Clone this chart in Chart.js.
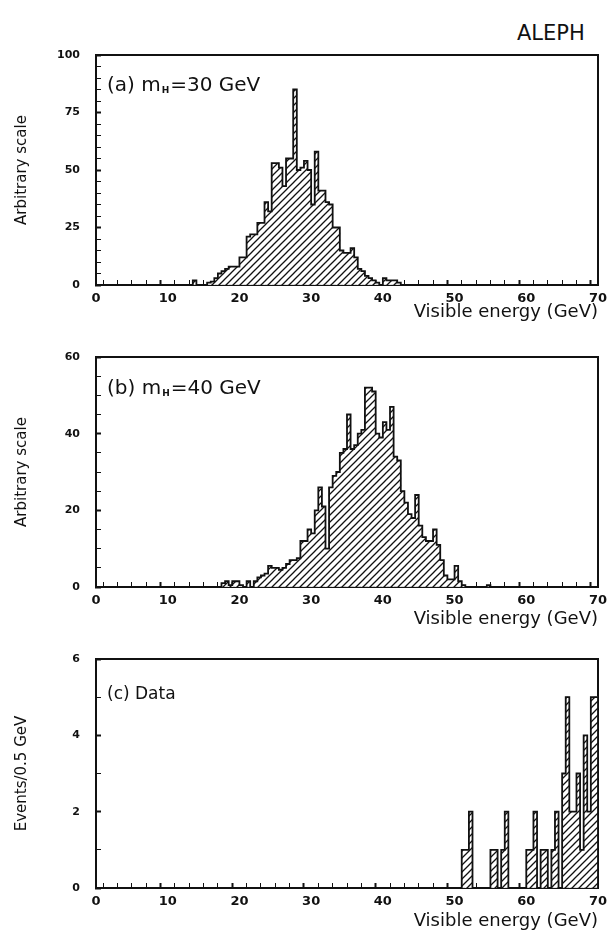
<!DOCTYPE html>
<html><head><meta charset="utf-8">
<script src="https://cdn.jsdelivr.net/npm/chart.js@4/dist/chart.umd.min.js"></script>
<style>
html,body{margin:0;padding:0;background:#fff;}
body{width:609px;height:940px;position:relative;overflow:hidden;}
canvas{position:absolute;left:0;}
#aleph{position:absolute;left:517px;top:21px;font:21px "DejaVu Sans",sans-serif;color:#111;}
</style></head><body>
<div id="aleph">ALEPH</div>
<canvas id="ca" width="609" height="324" style="top:0px"></canvas>
<canvas id="cb" width="609" height="311" style="top:320px"></canvas>
<canvas id="cc" width="609" height="310" style="top:627px"></canvas>
<script>
// ---- data (0.5 GeV bins, value per bin, bins listed from the start energy) ----
const binWidth = 0.5;
const xTickLabels = [0, 10, 20, 30, 40, 50, 60, 70];

// (a) m_H = 30 GeV
const aStart = 13.5;
const aValues = [2, 0, 0, 0, 1, 1.5, 3, 5, 6, 7, 8, 8, 8, 12, 12, 21, 22, 22, 27, 27,
  36, 32, 53, 53, 51, 43, 55, 55, 85, 50, 51, 54, 50, 35, 58, 41, 41, 36, 35, 25,
  25, 15, 14, 14, 16, 12, 7, 6, 4, 3, 2, 1, 0, 3, 2, 2, 2, 1];
const aYTickLabels = [0, 25, 50, 75, 100];

// (b) m_H = 40 GeV
const bStart = 17.5;
const bValues = [1, 1.5, 0.5, 1.5, 1.5, 0.5, 0, 1.5, 0, 1.5, 2.5, 3, 3.5, 5.5, 5, 5, 4.5, 5, 6, 7,
  7, 7.5, 12, 12, 15, 14, 20, 26, 21, 10, 26, 29, 30, 35, 36, 45, 36, 37, 40, 41,
  52, 52, 51, 40, 39, 43, 41, 47, 34, 33, 25, 22, 19, 18, 24, 16, 13, 12, 12, 15,
  11, 7, 3, 2, 2, 5.5, 1.5, 0.5, 0, 0, 0, 0, 0, 0, 0.5];
const bYTickLabels = [0, 20, 40, 60];

// (c) Data
const cStart = 51;
const cValues = [1, 1, 2, 0, 0, 0, 0, 0, 1, 1, 0, 1, 2, 0, 0, 0, 0, 0, 1, 1,
  2, 0, 1, 1, 0, 1, 2, 0, 3, 5, 2, 2, 3, 1, 4, 2, 5, 5];
const cYTickLabels = [0, 2, 4, 6];

// ---- helpers ----
const INK = '#111';
const FONT = '"DejaVu Sans", sans-serif';

function makeHatch() {
  const s = 7;
  const c = document.createElement('canvas');
  c.width = s; c.height = s;
  const g = c.getContext('2d');
  g.fillStyle = '#fff'; g.fillRect(0, 0, s, s);
  g.strokeStyle = INK; g.lineWidth = 1.3;
  g.beginPath();
  g.moveTo(-1, s + 1); g.lineTo(s + 1, -1);
  g.moveTo(-1, 1); g.lineTo(1, -1);
  g.moveTo(s - 1, s + 1); g.lineTo(s + 1, s - 1);
  g.stroke();
  return g.createPattern(c, 'repeat');
}
const hatch = makeHatch();

const panelLabelPlugin = {
  id: 'panelLabel',
  afterDraw(chart, args, o) {
    const {ctx, chartArea} = chart;
    ctx.save();
    let x = chartArea.left + o.dx;
    const y = chartArea.top + o.dy;
    ctx.fillStyle = INK;
    ctx.textBaseline = 'middle';
    ctx.textAlign = 'left';
    ctx.font = o.size + 'px ' + FONT;
    ctx.fillText(o.main, x, y);
    if (o.sub) {
      x += ctx.measureText(o.main).width + 1;
      ctx.font = 'bold 9px ' + FONT;
      ctx.fillText(o.sub, x, y + 5);
      x += ctx.measureText(o.sub).width + 1;
      ctx.font = o.size + 'px ' + FONT;
      ctx.fillText(o.rest, x, y);
    }
    ctx.restore();
  }
};

function makeChart(id, start, values, yMax, yStep, yLabels, yTitle, topH, bottomH, titlePad, label) {
  const bars = values.map((v, i) => ({x: start + binWidth * (i + 0.5), y: v}));
  const outline = [{x: start, y: 0}]
    .concat(values.map((v, i) => ({x: start + binWidth * i, y: v})))
    .concat([{x: start + binWidth * values.length, y: 0}]);
  const tickFont = {family: 'DejaVu Sans', size: 13, weight: 'bold'};
  return new Chart(document.getElementById(id), {
    type: 'bar',
    data: {
      datasets: [
        {type: 'bar', data: bars, backgroundColor: hatch, borderWidth: 0,
         barPercentage: 1, categoryPercentage: 1, xAxisID: 'x', yAxisID: 'y', order: 2},
        {type: 'line', data: outline, stepped: 'before', borderColor: INK, borderWidth: 1.8,
         pointRadius: 0, fill: false, xAxisID: 'x', yAxisID: 'y', order: 1}
      ]
    },
    options: {
      responsive: false, animation: false,
      layout: {padding: 0},
      plugins: {legend: {display: false}, tooltip: {enabled: false}, panelLabel: label},
      scales: {
        x: {
          type: 'linear', position: 'bottom', min: 0, max: 70, offset: false,
          ticks: {stepSize: 2, autoSkip: false, maxRotation: 0, padding: 11, color: INK, font: tickFont,
                  callback: v => xTickLabels.includes(v) ? String(v) : ''},
          grid: {drawOnChartArea: false, drawTicks: true, tickLength: -5, tickColor: INK,
                 tickWidth: c => (c.tick && xTickLabels.includes(c.tick.value)) ? 2 : 1},
          border: {display: true, color: INK, width: 2},
          title: {display: true, text: 'Visible energy (GeV)', align: 'end', color: INK,
                  font: {family: 'DejaVu Sans', size: 18}, padding: {top: 0, bottom: titlePad}},
          afterFit: s => { s.height = bottomH; s.paddingLeft = 0; s.paddingRight = 0; }
        },
        xTop: {
          type: 'linear', position: 'top', min: 0, max: 70,
          ticks: {display: false},
          grid: {drawOnChartArea: false, drawTicks: false},
          border: {display: true, color: INK, width: 2},
          afterFit: s => { s.height = topH; s.paddingLeft = 0; s.paddingRight = 0; }
        },
        y: {
          type: 'linear', position: 'left', min: 0, max: yMax,
          ticks: {stepSize: yStep, autoSkip: false, padding: 21, color: INK,
                  font: {family: 'DejaVu Sans', size: 11, weight: 'bold'},
                  callback: v => yLabels.includes(v) ? String(v) : ''},
          grid: {drawOnChartArea: false, drawTicks: true, tickLength: -5, tickColor: INK,
                 tickWidth: c => (c.tick && yLabels.includes(c.tick.value)) ? 2 : 1},
          border: {display: true, color: INK, width: 2},
          title: {display: true, text: yTitle, color: INK,
                  font: {family: 'DejaVu Sans', size: 15}, padding: {top: 13, bottom: 0}},
          afterFit: s => { s.width = 96; s.paddingTop = 0; s.paddingBottom = 0; }
        },
        yRight: {
          type: 'linear', position: 'right', min: 0, max: yMax,
          ticks: {display: false},
          grid: {drawOnChartArea: false, drawTicks: false},
          border: {display: true, color: INK, width: 2},
          afterFit: s => { s.width = 11; s.paddingTop = 0; s.paddingBottom = 0; }
        }
      }
    },
    plugins: [panelLabelPlugin]
  });
}

makeChart('ca', aStart, aValues, 100, 5, aYTickLabels, 'Arbitrary scale', 55, 39, 1,
  {dx: 11, dy: 31, size: 20, main: '(a) m', sub: 'H', rest: '=30 GeV'});
makeChart('cb', bStart, bValues, 60, 5, bYTickLabels, 'Arbitrary scale', 37, 44, 1,
  {dx: 11, dy: 32, size: 20, main: '(b) m', sub: 'H', rest: '=40 GeV'});
makeChart('cc', cStart, cValues, 6, 1, cYTickLabels, 'Events/0.5 GeV', 32, 49, 5,
  {dx: 11, dy: 36, size: 17, main: '(c) Data'});
</script>
</body></html>
